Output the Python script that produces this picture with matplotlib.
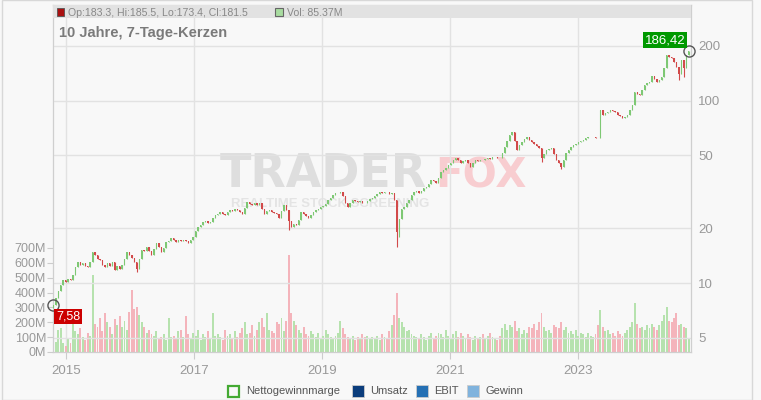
import matplotlib
matplotlib.use("Agg")
import matplotlib.pyplot as plt
from matplotlib.patches import Rectangle
import pandas as pd

plt.rcParams["font.family"] = ["Liberation Sans", "DejaVu Sans"]

# bi-weekly candles (log price axis)
start_date = "2014-10-20"
first_open = 7.3
closes = [
    7.6, 8.3, 9.0, 9.8, 10.4, 10.1, 10.5, 10.4, 11.0, 12.2, 13.1, 12.6, 12.9,
    12.4, 12.2, 13.0, 14.8, 14.3, 13.6, 13.3, 12.6, 12.2, 12.8, 12.4, 13.0, 11.8,
    12.4, 12.0, 12.5, 13.6, 14.8, 14.2, 13.7, 13.0, 12.0, 13.5, 15.2, 15.0, 15.7,
    15.0, 14.2, 15.3, 16.6, 15.8, 14.8, 15.6, 16.8, 17.0, 17.6, 17.2, 16.8, 17.3,
    17.0, 17.2, 16.9, 16.6, 17.2, 17.9, 19.2, 20.3, 20.8, 21.6, 22.0, 21.4, 21.6,
    22.6, 23.6, 23.8, 24.5, 24.0, 23.6, 24.4, 25.1, 24.8, 25.3, 25.1, 24.6, 24.0,
    25.8, 27.8, 27.0, 26.8, 27.3, 26.6, 27.5, 25.6, 24.0, 24.8, 25.1, 24.6, 24.3,
    24.0, 22.7, 24.8, 26.8, 25.0, 22.0, 20.4, 21.0, 20.8, 22.2, 24.5, 24.0, 23.2,
    22.7, 23.5, 24.4, 25.1, 25.6, 26.1, 26.4, 27.2, 28.5, 29.4, 30.2, 31.1, 31.3,
    31.5, 30.0, 27.5, 26.1, 27.3, 28.5, 28.2, 27.8, 28.1, 27.6, 27.5, 28.3, 28.8,
    29.2, 30.0, 30.8, 31.5, 31.2, 31.6, 31.5, 30.8, 31.1, 28.5, 19.0, 22.5, 25.5,
    26.1, 27.5, 28.6, 30.5, 31.5, 31.8, 31.1, 32.0, 33.0, 33.6, 35.0, 36.6, 36.0,
    35.4, 37.5, 40.5, 41.5, 42.5, 44.2, 45.5, 47.0, 48.3, 47.0, 45.4, 46.5, 47.2,
    45.5, 43.2, 45.5, 47.2, 46.6, 47.5, 47.2, 48.0, 48.3, 47.6, 48.8, 49.1, 48.6,
    48.3, 51.5, 55.6, 60.0, 64.5, 67.1, 60.0, 53.7, 57.0, 59.0, 61.5, 63.2, 61.0,
    59.0, 58.0, 56.5, 55.0, 48.3, 51.0, 53.7, 54.5, 55.0, 51.0, 47.2, 45.5, 43.2,
    47.0, 51.6, 53.5, 55.6, 56.8, 58.0, 59.0, 60.0, 61.0, 62.0, 62.8, 63.0, 63.2,
    62.5, 62.0, 88.8, 83.0, 85.5, 87.0, 88.8, 87.5, 86.0, 83.5, 82.0, 80.0, 81.5,
    83.0, 88.5, 94.6, 111, 109, 107, 114, 121, 124, 126, 137, 131, 126,
    130, 135, 150, 178, 174, 171, 162, 152, 140, 166, 150, 178, 186.42,
]
# a few long lower wicks
low_idx = [34, 96, 140, 141, 199, 207, 255, 257]
low_val = [11.5, 19.5, 15.7, 17.9, 46.0, 42.0, 129, 135]

# volume in millions
volumes = [
    90, 70, 150, 160, 60, 40, 90, 60, 230, 140, 120, 160, 100,
    80, 130, 110, 515, 190, 170, 230, 140, 260, 200, 170, 120, 220,
    180, 240, 170, 210, 150, 270, 415, 290, 300, 250, 200, 170, 130,
    150, 120, 110, 140, 90, 100, 120, 80, 230, 100, 110, 90, 140,
    150, 100, 240, 120, 90, 130, 110, 150, 80, 120, 100, 140, 90,
    260, 110, 120, 100, 80, 150, 110, 120, 90, 140, 100, 130, 160,
    200, 120, 130, 180, 110, 150, 200, 230, 170, 260, 150, 140, 130,
    200, 190, 230, 140, 210, 650, 260, 210, 180, 150, 130, 170, 120,
    110, 140, 120, 100, 130, 90, 110, 150, 120, 100, 90, 110, 130,
    210, 160, 120, 100, 90, 110, 80, 100, 90, 120, 100, 110, 90,
    100, 90, 110, 80, 120, 100, 90, 140, 180, 250, 400, 230, 200,
    170, 140, 150, 120, 110, 100, 90, 120, 100, 80, 110, 130, 90,
    110, 130, 120, 100, 150, 110, 90, 120, 140, 100, 130, 110, 90,
    120, 100, 80, 110, 90, 100, 120, 90, 110, 130, 100, 90, 80,
    110, 160, 190, 150, 180, 170, 210, 140, 160, 120, 150, 130, 170,
    160, 190, 150, 200, 260, 170, 140, 150, 130, 180, 170, 160, 200,
    150, 170, 130, 140, 120, 150, 110, 130, 120, 100, 130, 110, 100,
    120, 180, 280, 170, 140, 150, 120, 130, 110, 140, 120, 110, 130,
    150, 170, 200, 330, 190, 160, 170, 150, 180, 160, 190, 170, 150,
    180, 210, 250, 300, 210, 200, 230, 260, 180, 190, 170, 160, 85,
]

vol_ticks = [0, 100, 200, 300, 400, 500, 600, 700]
price_ticks = [5, 10, 20, 50, 100, 200]
year_ticks = [2015, 2017, 2019, 2021, 2023]
legend_items = ["Nettogewinnmarge", "Umsatz", "EBIT", "Gewinn"]
legend_colors = [None, "#0b3d7c", "#2570b4", "#80b3dd"]

BG = "#f8f8f8"
GRID = "#e2e2e2"
LABEL = "#999999"
UP, DOWN = "#7ec874", "#d24a4a"
VUP, VDOWN = "#b6e2ae", "#f4b4bb"

dates = pd.date_range(start_date, periods=len(closes), freq="14D")
opens = [first_open] + closes[:-1]
lows = [min(o, c) for o, c in zip(opens, closes)]
for i, v in zip(low_idx, low_val):
    lows[i] = v
ups = [c >= o for o, c in zip(opens, closes)]

W, H = 761, 400
fig = plt.figure(figsize=(W / 100, H / 100), dpi=100, facecolor=BG)
fig.add_artist(Rectangle((2 / W, 0), 750 / W, 1, transform=fig.transFigure,
                         fill=False, edgecolor="#d8d8d8", lw=1))

ax_vol = fig.add_axes([53 / W, 48 / H, 638 / W, 347 / H], facecolor=BG)
ax = ax_vol.twinx()

# volume
ax_vol.bar(dates, volumes, width=11, color=[VUP if u else VDOWN for u in ups],
           linewidth=0, zorder=2)
ax_vol.set_ylim(0, 2335)
ax_vol.set_yticks(vol_ticks)
ax_vol.set_yticklabels(["{}M".format(v) for v in vol_ticks])

# watermark
ax_vol.text(167 / 638, 1 - 182 / 347, "TRADER", transform=ax_vol.transAxes,
            fontsize=33, fontweight="bold", color="#dedede", zorder=0.5,
            family="DejaVu Sans")
ax_vol.text(382 / 638, 1 - 182 / 347, "FOX", transform=ax_vol.transAxes,
            fontsize=29, fontweight="bold", color="#f8cdd0", zorder=0.5,
            family="DejaVu Sans")
ax_vol.text(178 / 638, 1 - 202 / 347, "REALTIME STOCK SCREENING",
            transform=ax_vol.transAxes, fontsize=9.5, fontweight="bold",
            color="#e4e4e4", zorder=0.5)

# candles
ccol = [UP if u else DOWN for u in ups]
ax.vlines(dates, lows, [max(o, c) for o, c in zip(opens, closes)],
          colors=ccol, lw=0.8, zorder=3)
ax.bar(dates, [abs(c - o) for o, c in zip(opens, closes)],
       bottom=[min(o, c) for o, c in zip(opens, closes)],
       width=8, color=ccol, linewidth=0, zorder=3)
ax.set_yscale("log")
ax.set_ylim(4.19, 333.6)
ax.set_yticks(price_ticks)
ax.set_yticklabels([str(p) for p in price_ticks])
ax.yaxis.set_minor_locator(matplotlib.ticker.NullLocator())
ax.grid(axis="y", color=GRID, lw=1, zorder=1)
ax.set_axisbelow(True)

ax_vol.set_xlim(pd.Timestamp("2014-10-18"), pd.Timestamp("2024-10-06"))
ax_vol.set_xticks([pd.Timestamp("{}-01-01".format(y)) for y in year_ticks])
ax_vol.set_xticklabels([str(y) for y in year_ticks])
ax_vol.grid(axis="x", color=GRID, lw=1, zorder=1)

for a in (ax, ax_vol):
    for s in a.spines.values():
        s.set_color("#cfcfcf")
ax_vol.tick_params(axis="y", length=4, pad=1, color="#cccccc",
                   labelcolor=LABEL, labelsize=9)
ax_vol.tick_params(axis="x", length=5, pad=4, color="#cccccc",
                   labelcolor=LABEL, labelsize=9.5)
ax.tick_params(axis="y", length=0, pad=5, labelcolor=LABEL, labelsize=9.5)

# header band
ax.add_patch(Rectangle((0, 1 - 13 / 347), 1, 13 / 347, transform=ax.transAxes,
                       facecolor="#e2e2e2", edgecolor="none", zorder=6))
fig.add_artist(Rectangle((57 / W, 1 - 16 / H), 7 / W, 8 / H, transform=fig.transFigure,
                         facecolor="#aa1111", edgecolor="#555555", lw=0.6))
fig.text(68 / W, 1 - 15.5 / H, "Op:183.3, Hi:185.5, Lo:173.4, Cl:181.5",
         color="#888888", fontsize=7.6)
fig.add_artist(Rectangle((275 / W, 1 - 16 / H), 8 / W, 8 / H, transform=fig.transFigure,
                         facecolor="#a8dca0", edgecolor="#666666", lw=0.8))
fig.text(287 / W, 1 - 15.5 / H, "Vol: 85.37M", color="#888888", fontsize=7.6)
fig.text(59 / W, 1 - 37 / H, "10 Jahre, 7-Tage-Kerzen", color="#7a7a7a",
         fontsize=10.5, fontweight="bold")

# first / last markers
ax.plot([dates[0], dates[-1]], [closes[0], closes[-1]], "o", ms=8, mfc="none",
        mec="#555555", mew=1, zorder=8, clip_on=False)
ax.annotate("7,58", (dates[0], closes[0]), xytext=(10.5, -8.5),
            textcoords="offset points", ha="center", va="center", color="white",
            fontsize=9, zorder=9, annotation_clip=False,
            bbox=dict(boxstyle="square,pad=0.15", fc="#cc0000", ec="none"))
ax.annotate("186,42", (dates[-1], closes[-1]), xytext=(-17, 8),
            textcoords="offset points", ha="center", va="center", color="white",
            fontsize=9.5, zorder=9, annotation_clip=False,
            bbox=dict(boxstyle="square,pad=0.15", fc="#009900", ec="none"))

# legend
lx = [228, 352, 416, 467]
for x0, name, col in zip(lx, legend_items, legend_colors):
    if col is None:
        fig.add_artist(Rectangle((x0 / W, (H - 397) / H), 11 / W, 11 / H,
                                 transform=fig.transFigure, facecolor="none",
                                 edgecolor="#44aa33", lw=1.6))
    else:
        fig.add_artist(Rectangle((x0 / W, (H - 397) / H), 12 / W, 12 / H,
                                 transform=fig.transFigure, facecolor=col,
                                 edgecolor="#cccccc", lw=0.6))
    fig.text((x0 + 18) / W, (H - 391) / H, name, color="#555555", fontsize=8,
             va="center")

fig.savefig("out.png", dpi=100, facecolor=BG)
